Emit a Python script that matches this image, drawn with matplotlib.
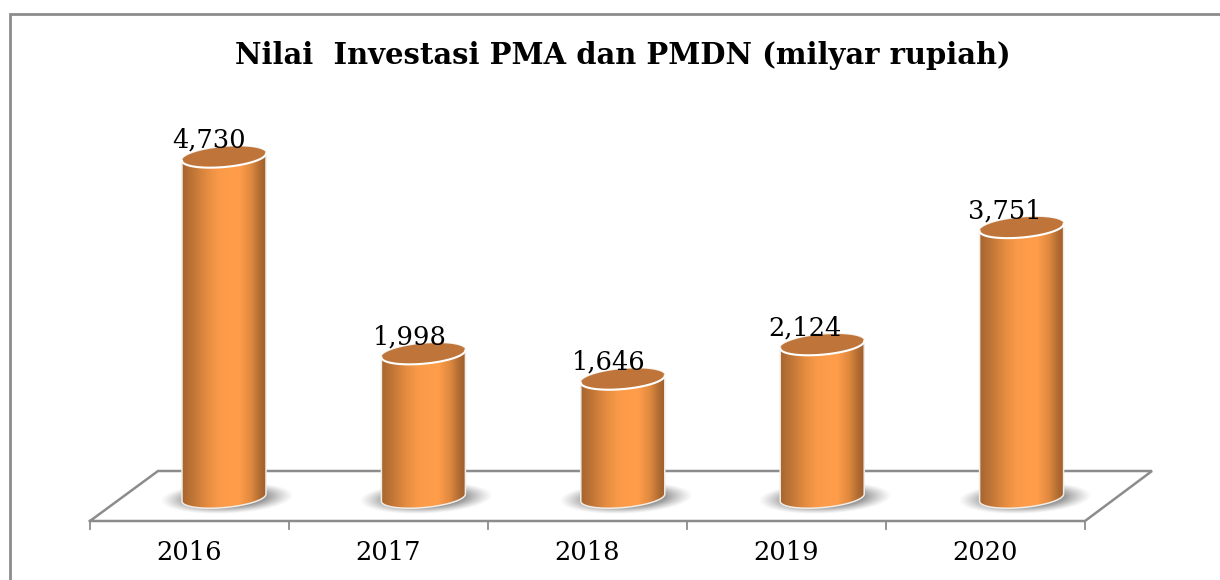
#!/usr/bin/env python3
# -*- coding: utf-8 -*-
import matplotlib
matplotlib.use("Agg")
import matplotlib.pyplot as plt
import numpy as np
from matplotlib.colors import LinearSegmentedColormap
from matplotlib.patches import Polygon
from matplotlib.transforms import Affine2D

years = ["2016", "2017", "2018", "2019", "2020"]
values = [4730, 1998, 1646, 2124, 3751]
value_labels = ["4,730", "1,998", "1,646", "2,124", "3,751"]
title = "Nilai  Investasi PMA dan PMDN (milyar rupiah)"

W, H = 1220, 580
FONT = "DejaVu Serif"
GREY = "#8c8c8c"

fig = plt.figure(figsize=(W / 100, H / 100), dpi=100)
ax = fig.add_axes([0, 0, 1, 1])
ax.axis("off")

# pixels of the picture, y going down
px = Affine2D().scale(1, -1).translate(0, H)

# one category = 199.4 px, one unit = 0.072 px
x_lim = (-224 / 199.4, (W - 224) / 199.4)
y_lim = ((497.6 - H) / 0.072, 497.6 / 0.072)

cyl_cmap = LinearSegmentedColormap.from_list(
    "cyl", [(0, "#a8652f"), (0.12, "#bd7436"), (0.3, "#e58c40"), (0.45, "#fb9b49"),
            (0.68, "#ff9d4a"), (0.82, "#e08a40"), (0.93, "#b26c32"), (1, "#9e5f2c")])

ax.set_xlim(*x_lim)
ax.set_ylim(*y_lim)


def ellipse_pts(cx, cy, a=42, b=10, tilt=0.085, t0=0, t1=2 * np.pi, n=80):
    t = np.linspace(t0, t1, n)
    xs = cx + a * np.cos(t)
    ys = cy + b * np.sin(t) - a * np.cos(t) * tilt
    return np.column_stack([xs, ys])


def draw_shadow(cx, cy):
    yy, xx = np.mgrid[-18:18:72j, -70:70:280j]
    r = np.sqrt((xx / 67) ** 2 + ((yy + xx * 0.04) / 16) ** 2)
    alpha = np.clip((1 - r) * 2.4, 0, 1) ** 1.2 * 0.85
    rgba = np.zeros(alpha.shape + (4,))
    rgba[..., :3] = 0.52
    rgba[..., 3] = alpha
    ax.imshow(rgba, extent=(cx - 70 + 3, cx + 70 + 3, cy + 18, cy - 18), aspect="auto",
              transform=px + ax.transData.inverted() + ax.transData, zorder=2, interpolation="bilinear")


def draw_cylinder(i, value):
    x_d, y_top = ax.transData.transform((i, value))
    x_d, y_base = ax.transData.transform((i, 0))
    cx = x_d
    top_y = H - y_top
    base_y = H - y_base

    # body: bottom half of the base ellipse, top half closed over the lid
    lower = ellipse_pts(cx, base_y, t0=0, t1=np.pi)
    upper = ellipse_pts(cx, top_y, t0=np.pi, t1=2 * np.pi)
    outline = np.vstack([lower, upper])
    grad = np.linspace(0, 1, 256).reshape(1, -1)
    im = ax.imshow(grad, cmap=cyl_cmap, extent=(cx - 42, cx + 42, base_y + 15, top_y - 15),
                   aspect="auto", transform=px + ax.transData.inverted() + ax.transData, zorder=3)
    clip = Polygon(outline, closed=True, transform=px, fc="none", ec="none")
    ax.add_patch(clip)
    im.set_clip_path(clip)

    ax.add_patch(Polygon(outline, closed=True, fc="none", ec="#f1ece6", lw=1.1, transform=px, zorder=4))
    ax.add_patch(Polygon(ellipse_pts(cx, top_y), closed=True, fc="#bf7539", ec="none", transform=px, zorder=5))
    front = ellipse_pts(cx, top_y, t0=0, t1=np.pi)
    ax.plot(front[:, 0], front[:, 1], color="white", lw=1.5, transform=px, zorder=6)


# floor and axis line
floor_x = [90, 158, 1152, 1085]
floor_y = [521, 471, 471, 521]
ax.plot(floor_x + [90], floor_y + [521], color=GREY, lw=1.8, transform=px, zorder=1,
        solid_joinstyle="miter")
for k in range(6):
    tick_x = 90 + 199 * k
    ax.plot([tick_x, tick_x], [521, 529], color=GREY, lw=1.3, transform=px, zorder=1)

for i, v in enumerate(values):
    _, base = ax.transData.transform((i, 0))
    draw_shadow(ax.transData.transform((i, 0))[0], H - base)
for i, v in enumerate(values):
    draw_cylinder(i, v)

ax.set_xlim(*x_lim)
ax.set_ylim(*y_lim)

# data labels sit a little left of the bars
label_dx = [-15, -14, -14, -17, -17]
for i, (v, lab) in enumerate(zip(values, value_labels)):
    bx, by = ax.transData.transform((i, v))
    ax.text(bx + label_dx[i], H - by - 17, lab, transform=px, ha="center", va="center",
            fontsize=18.5, family=FONT, color="black", zorder=7)

for k, y in enumerate(years):
    ax.text(189 + 199 * k, 553, y, transform=px, ha="center", va="center",
            fontsize=18.5, family=FONT, color="black", zorder=7)

ax.text(623, 56, title, transform=px, ha="center", va="center", fontsize=20.85,
        family=FONT, fontweight="bold", color="black", zorder=7)

# outer frame, only left and top are in view
ax.plot([9.5, 9.5, W], [H, 14, 14], color=GREY, lw=2, transform=px, zorder=8,
        solid_joinstyle="miter", clip_on=False)

fig.savefig("out.png", dpi=100)
